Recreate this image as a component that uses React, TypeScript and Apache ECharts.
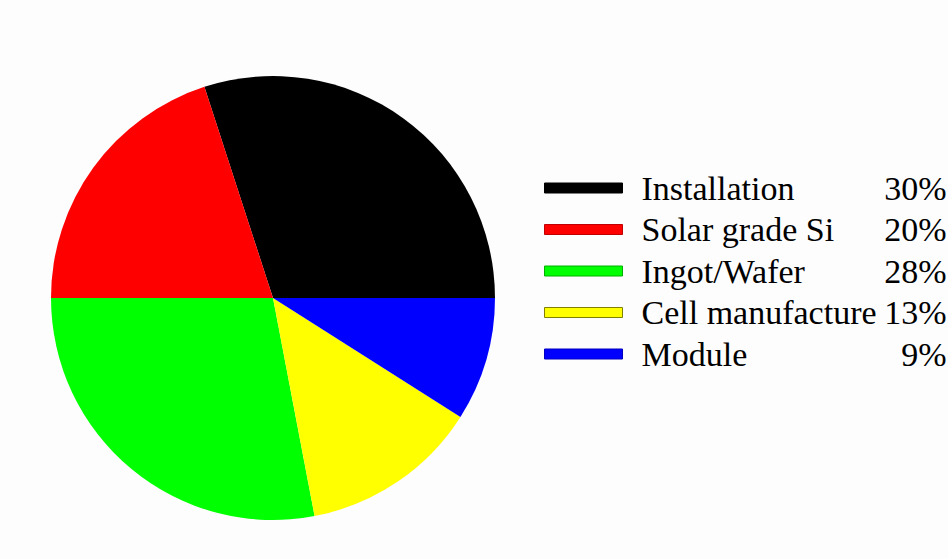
import React, { useEffect, useRef } from "react";
import * as echarts from "echarts";

const categories = ["Installation", "Solar grade Si", "Ingot/Wafer", "Cell manufacture", "Module"];
const shares = [30, 20, 28, 13, 9];
const colors = ["#000000", "#ff0000", "#00ff00", "#ffff00", "#0000ff"];
const legendBorders = ["#000000", "#c00000", "#00b000", "#808000", "#0000c0"];

export default function App() {
  const ref = useRef<HTMLDivElement>(null);
  useEffect(() => {
    document.body.style.margin = "0";
    const chart = echarts.init(ref.current!, null, { renderer: "svg" });
    const font = "'Liberation Serif', 'Times New Roman', serif";
    chart.setOption({
      animation: false,
      backgroundColor: "#fdfdfd",
      legend: {
        orient: "vertical",
        left: 544,
        top: 171,
        padding: 0,
        itemWidth: 78,
        itemHeight: 10,
        itemGap: 7.5,
        icon: "rect",
        selectedMode: false,
        data: categories.map((c, i) => ({
          name: c,
          itemStyle: { color: colors[i], borderColor: legendBorders[i], borderWidth: 1 },
        })),
        formatter: (name: string) => {
          const i = categories.indexOf(name);
          return `{n|${name}}{p|${shares[i]}%}`;
        },
        textStyle: {
          fontFamily: font,
          fontSize: 34,
          color: "#000",
          rich: {
            n: { fontFamily: font, fontSize: 34, color: "#000", width: 236, padding: [0, 0, 0, 14] },
            p: { fontFamily: font, fontSize: 34, color: "#000", width: 69, align: "right" },
          },
        },
      },
      series: [
        {
          type: "pie",
          center: [273, 298],
          radius: 222,
          startAngle: 0,
          clockwise: false,
          silent: true,
          label: { show: false },
          labelLine: { show: false },
          itemStyle: { borderWidth: 0 },
          data: categories.map((c, i) => ({ name: c, value: shares[i], itemStyle: { color: colors[i] } })),
        },
      ],
    });
    return () => chart.dispose();
  }, []);
  return <div ref={ref} style={{ width: 948, height: 559 }} />;
}
